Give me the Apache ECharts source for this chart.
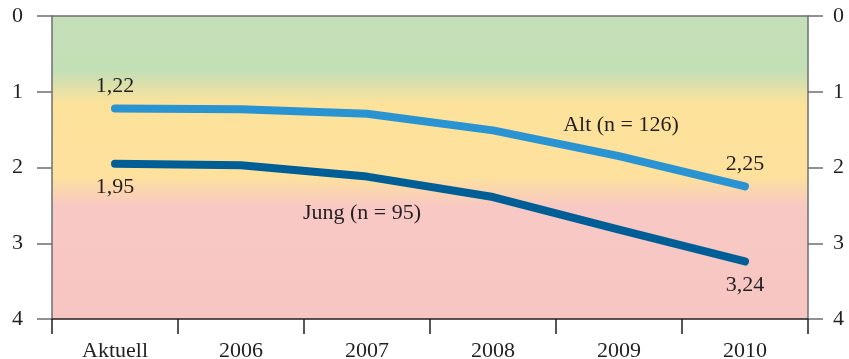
<!DOCTYPE html>
<html>
<head>
<meta charset="utf-8">
<script src="https://cdn.jsdelivr.net/npm/echarts@6/dist/echarts.min.js"></script>
<style>
  html, body { margin: 0; padding: 0; background: #fff; }
  #chart { width: 849px; height: 359px; }
</style>
</head>
<body>
<div id="chart"></div>
<script>
var categories = ['Aktuell', '2006', '2007', '2008', '2009', '2010'];
var altValues = [1.22, 1.23, 1.29, 1.51, 1.85, 2.25];
var jungValues = [1.95, 1.97, 2.12, 2.39, 2.82, 3.24];
var altName = 'Alt (n = 126)';
var jungName = 'Jung (n = 95)';

var font = 'Liberation Serif';
var textColor = '#231f20';

function fmt(v) {
    return String(v.toFixed(2)).replace('.', ',');
}

// value labels only on first and last point, series name on one point
function buildData(values, valuePos, nameIdx, name, namePos) {
    return values.map(function (v, i) {
        var item = { value: v };
        if (i === 0 || i === values.length - 1) {
            item.label = {
                show: true,
                position: valuePos,
                distance: valuePos === 'top' ? 11 : 12,
                formatter: fmt(v)
            };
        } else if (i === nameIdx) {
            item.label = {
                show: true,
                position: namePos,
                distance: namePos === 'top' ? 19 : 25,
                offset: namePos === 'top' ? [2, 0] : [-5, 0],
                formatter: name
            };
        }
        return item;
    });
}

var yAxisBase = {
    type: 'value',
    min: 0,
    max: 4,
    interval: 1,
    inverse: true,
    axisLine: { show: true, lineStyle: { color: '#6d6e71', width: 1.5 } },
    axisTick: { show: true, length: 15, lineStyle: { color: '#6d6e71', width: 1.5 } },
    splitLine: { show: false },
    axisLabel: { color: textColor, fontFamily: font, fontSize: 22 }
};

var chart = echarts.init(document.getElementById('chart'));
chart.setOption({
    animation: false,
    grid: {
        left: 52, right: 41, top: 16, bottom: 40,
        outerBoundsMode: 'none',
        show: true,
        borderWidth: 0,
        backgroundColor: new echarts.graphic.LinearGradient(0, 0, 0, 1, [
            { offset: 0, color: '#c5e0b9' },
            { offset: 0.18, color: '#c3dfb6' },
            { offset: 0.29, color: '#fde29b' },
            { offset: 0.53, color: '#fde19d' },
            { offset: 0.63, color: '#f8c8c4' },
            { offset: 1, color: '#f7c6c3' }
        ])
    },
    xAxis: [{
        type: 'category',
        data: categories,
        boundaryGap: true,
        position: 'bottom',
        axisLine: { show: true, onZero: false, lineStyle: { color: '#231f20', width: 1.5 } },
        axisTick: { show: true, length: 15, lineStyle: { color: '#231f20', width: 1.5 } },
        axisLabel: { color: textColor, fontFamily: font, fontSize: 22, margin: 21 }
    }, {
        type: 'category',
        data: categories,
        position: 'top',
        axisLine: { show: true, onZero: false, lineStyle: { color: '#6d6e71', width: 1.5 } },
        axisTick: { show: false },
        axisLabel: { show: false }
    }],
    yAxis: [
        Object.assign({}, yAxisBase, { position: 'left', axisLabel: Object.assign({}, yAxisBase.axisLabel, { margin: 29 }) }),
        Object.assign({}, yAxisBase, { position: 'right', axisLabel: Object.assign({}, yAxisBase.axisLabel, { margin: 25 }) })
    ],
    series: [{
        name: altName,
        type: 'line',
        data: buildData(altValues, 'top', 4, altName, 'top'),
        symbol: 'circle',
        symbolSize: 1,
        itemStyle: { color: 'rgba(0,0,0,0)' },
        lineStyle: { color: '#2a94d2', width: 8, cap: 'round', join: 'round' },
        label: { color: textColor, fontFamily: font, fontSize: 22 },
        z: 3
    }, {
        name: jungName,
        type: 'line',
        data: buildData(jungValues, 'bottom', 2, jungName, 'bottom'),
        symbol: 'circle',
        symbolSize: 1,
        itemStyle: { color: 'rgba(0,0,0,0)' },
        lineStyle: { color: '#005e97', width: 8, cap: 'round', join: 'round' },
        label: { color: textColor, fontFamily: font, fontSize: 22 },
        z: 3
    }]
});
</script>
</body>
</html>
